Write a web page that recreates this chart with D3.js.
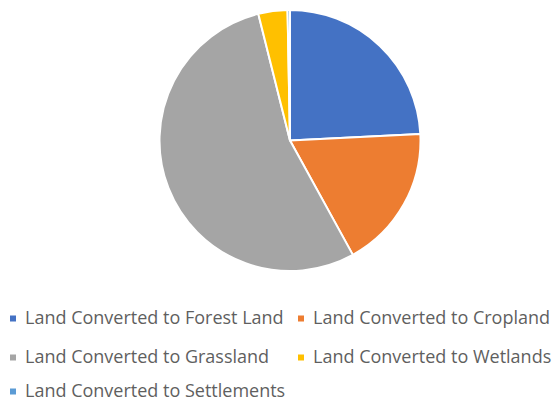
<!DOCTYPE html>
<html>
<head>
<meta charset="utf-8">
<script src="https://cdn.jsdelivr.net/npm/d3@7"></script>
<style>
  html, body { margin: 0; padding: 0; background: #fff; }
  svg { display: block; }
</style>
</head>
<body>
<svg id="chart" width="560" height="404"></svg>
<script>
// Share of converted land by destination category (percent)
const categories = [
  "Land Converted to Forest Land",
  "Land Converted to Cropland",
  "Land Converted to Grassland",
  "Land Converted to Wetlands",
  "Land Converted to Settlements"
];
const values = [24.2, 17.8, 54.1, 3.6, 0.3];
const colors = ["#4472C4", "#ED7D31", "#A5A5A5", "#FFC000", "#5B9BD5"];

const data = categories.map((c, i) => ({ name: c, value: values[i], color: colors[i] }));

const svg = d3.select("#chart");
const cx = 290, cy = 140.5, radius = 130.5;

const pie = d3.pie().sort(null).value(d => d.value);
const arc = d3.arc().innerRadius(0).outerRadius(radius);

svg.append("g")
  .attr("transform", `translate(${cx},${cy})`)
  .selectAll("path")
  .data(pie(data))
  .join("path")
  .attr("d", arc)
  .attr("fill", d => d.data.color)
  .attr("stroke", "#fff")
  .attr("stroke-width", 2)
  .attr("stroke-linejoin", "round");

// Legend: two columns, wrapping rows
const legendCols = [10, 298];
const legendRows = [318, 357, 391];
const legend = svg.append("g").attr("font-family", "'Open Sans', sans-serif")
  .attr("font-size", 18).attr("fill", "#5f5f5f");

data.forEach((d, i) => {
  const x = legendCols[i % 2];
  const y = legendRows[Math.floor(i / 2)];
  legend.append("rect")
    .attr("x", x).attr("y", y - 2.5)
    .attr("width", 6).attr("height", 6)
    .attr("fill", d.color);
  legend.append("text")
    .attr("x", x + 15).attr("y", y)
    .attr("dy", "0.35em")
    .text(d.name);
});
</script>
</body>
</html>
